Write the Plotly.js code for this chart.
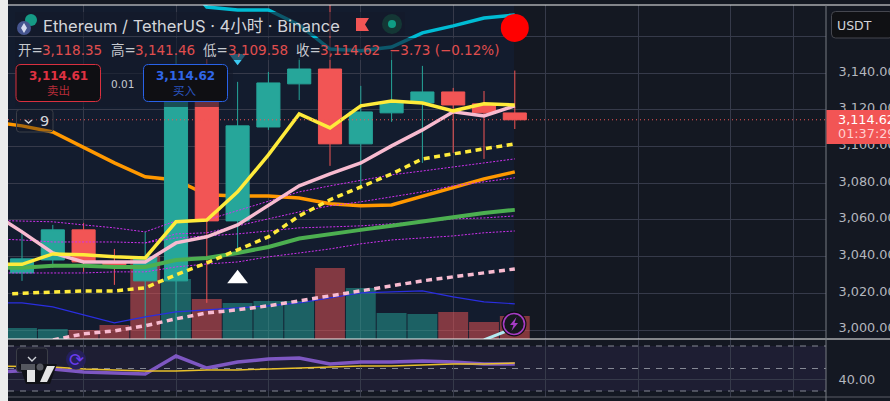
<!DOCTYPE html>
<html><head><meta charset="utf-8">
<script src="https://cdn.plot.ly/plotly-3.0.1.min.js"></script>
<style>html,body{margin:0;padding:0;background:#141822;overflow:hidden}#c{width:890px;height:401px}</style>
</head><body><div id="c"></div>
<script>
// ---------- data ----------
const idx      = [0,1,2,3,4,5,6,7,8,9,10,11,12,13,14,15,16];
const lineIdx  = [-1,0,1,2,3,4,5,6,7,8,9,10,11,12,13,14,15,16];
const open_    = [3031.1,3038.2,3054.6,3036.6,3026.8,3026.8,3125.4,3059.5,3110.7,3134.2,3142.3,3101.5,3118.4,3123.8,3129.8,3123.3,3118.35];
const close_   = [3038.8,3054.6,3037.1,3035.6,3039.9,3125.4,3059.5,3111.3,3134.7,3142.3,3101.5,3118.9,3124.4,3129.8,3122.7,3118.4,3114.62];
const high_    = [3054.6,3057.3,3058.4,3044.2,3053.5,3150,3147.8,3135.3,3140.7,3148.3,3180,3133.1,3151.6,3144,3132,3130.3,3141.46];
const low_     = [3026.8,3033.9,3031.7,3024.6,2990,2990,3014.8,3043.7,3109.1,3125.4,3089.5,3076.4,3113.5,3091.1,3096.6,3093.3,3109.58];
const volume   = [110,100,90,140,830,600,400,360,380,380,710,510,260,250,270,170,230];
const volColor = ['u','u','d','d','d','u','d','u','u','u','d','u','u','u','d','d','d'];
const maYellow = [3036,3035.8,3041.5,3041,3039.9,3039.3,3059,3060,3075.3,3095.5,3117.8,3110.2,3122.2,3124.9,3123.8,3119.5,3123.3,3122.7];
const maPink   = [3064.4,3053.5,3042,3037.1,3037.1,3037.1,3047.5,3050.8,3057.3,3068.2,3078.6,3085.1,3091.1,3100.4,3109.1,3119,3116.7,3122.2];
const maOrange = [3113.5,3111.3,3108,3099.8,3091.1,3083.5,3081.8,3073.7,3073.1,3073.1,3072,3068.8,3067.7,3068.2,3073.1,3078,3082.4,3086.2];
const maGreen  = [3033.9,3033.9,3035,3035,3034.4,3034.4,3038.2,3039.3,3042,3045.3,3049.9,3052.4,3054.6,3056.8,3059,3061.7,3063.8,3065.5];
const dotYellow= [3019.4,3020,3020.8,3021.3,3021.3,3023,3030.1,3036.6,3043.7,3050.8,3062.2,3071,3078,3085.1,3093.3,3096,3098.7,3101.5];
const dotPink  = [2988,2991.3,2994.6,2997.9,2999.5,3002.3,3006.1,3009.3,3011,3013.2,3015.9,3018.6,3021.3,3024,3026.8,3029,3031.1,3033.3];
const blueLine = [3014.8,3014.8,3012.6,3008.3,3003.9,3007.2,3009.9,3011,3012.1,3013.2,3014.8,3017.5,3020.2,3020.8,3021.3,3018.1,3015.3,3014.3];
const band1    = [3059.8,3059.5,3059,3057.3,3055.7,3053.5,3059.5,3060,3065,3069.9,3075.3,3078.6,3081.8,3084.6,3086.7,3089,3091.1,3093.3];
const band2Idx = [4,5,6,7,8,9,10,11,12,13,14,15,16];
const band2    = [3047.5,3052.4,3053,3056.8,3060.6,3064.4,3067.7,3069.9,3072.6,3075.3,3078.6,3080.8,3083];
const band3    = [3049.7,3049.1,3048,3048,3048,3047.5,3050.2,3051.3,3052.4,3054,3055.7,3056.2,3056.8,3057.9,3059,3060.6,3061.1,3062.2];
const band4    = [3031.1,3031.1,3031.1,3031.1,3031.7,3031.7,3034.4,3036,3037.1,3039.9,3042,3044.2,3047,3049.1,3050.2,3051.3,3053,3054];
const cyanIdx  = [5.9,6,7,8,9,10,11,12,13,14,15,16];
const cyanLine = [3178,3176.1,3174.5,3174.5,3166.3,3153.2,3152.2,3154.3,3162,3165.8,3170.1,3171.8];
const paleIdx  = [15,16];
const paleLine = [2994.6,3001.2];
const rsi      = [46.4,47.8,49.6,46.9,46,45.1,61.1,50.4,55.8,58.4,59.3,54,55.8,55.8,56.7,55.8,54,54];
const rsiMa    = [52.2,51.8,51.3,49.6,48.7,47.8,47.8,48.7,48.7,49.6,50.4,51.3,52.2,52.2,53.1,54,54,54.9];
const priceTicks = [3000,3020,3040,3060,3080,3100,3120,3140,3160];
const priceLabels= ['3,000.00','3,020.00','3,040.00','3,060.00','3,080.00','3,100.00','3,120.00','3,140.00',''];
const timeTicks  = [2,5,8,11,14,17,20,23,25.05];
const lastPrice  = 3114.62;

// ---------- helpers ----------
const W=890,H=401;
const px=x=>x/W, py=y=>1-y/H;
const FONT="Inter, 'Noto Sans CJK SC', sans-serif";
const NUM="'DejaVu Sans', 'Noto Sans CJK SC', sans-serif";
const TEAL='#26a69a', RED='#f25555';
const GRID='#363a4a';
const note=(x,y,text,size,color,anchor,weight,family)=>({xref:'paper',yref:'paper',x:px(x),y:py(y),text:text,showarrow:false,
  xanchor:anchor||'left',yanchor:'middle',borderpad:0,font:{family:family||NUM,size:size,color:color,weight:weight||400}});
const rect=(x0,y0,x1,y1,fill,layer)=>({type:'rect',xref:'paper',yref:'paper',x0:px(x0),x1:px(x1),y0:py(y0),y1:py(y1),
  fillcolor:fill,line:{width:0},layer:layer||'above'});
const hline=(x0,x1,y,color,w)=>({type:'line',xref:'paper',yref:'paper',x0:px(x0),x1:px(x1),y0:py(y),y1:py(y),line:{color:color,width:w||1},layer:'above'});
const poly=(pts,fill,close=true,stroke,sw)=>({type:'path',xref:'paper',yref:'paper',layer:'above',
  path:'M'+pts.map(p=>px(p[0])+','+py(p[1])).join('L')+(close?'Z':''),
  fillcolor:close?fill:'rgba(0,0,0,0)',line:{color:stroke||'rgba(0,0,0,0)',width:sw||0}});
const round=(x0,y0,x1,y1,r,fill,stroke)=>({type:'path',xref:'paper',yref:'paper',layer:'above',fillcolor:fill,line:{color:stroke,width:1},
  path:`M${px(x0+r)},${py(y0)}L${px(x1-r)},${py(y0)}Q${px(x1)},${py(y0)} ${px(x1)},${py(y0+r)}L${px(x1)},${py(y1-r)}Q${px(x1)},${py(y1)} ${px(x1-r)},${py(y1)}L${px(x0+r)},${py(y1)}Q${px(x0)},${py(y1)} ${px(x0)},${py(y1-r)}L${px(x0)},${py(y0+r)}Q${px(x0)},${py(y0)} ${px(x0+r)},${py(y0)}Z`});
const circ=(cx,cy,r,fill,stroke,sw)=>({type:'circle',xref:'paper',yref:'paper',layer:'above',x0:px(cx-r),x1:px(cx+r),y0:py(cy+r),y1:py(cy-r),
  fillcolor:fill,line:{color:stroke||'rgba(0,0,0,0)',width:sw||0}});

// ---------- traces ----------
const line=(x,y,color,width,dash,axis)=>({type:'scatter',mode:'lines',x:x,y:y,yaxis:axis||'y3',hoverinfo:'skip',
  line:{color:color,width:width,dash:dash||'solid'},cliponaxis:true});
const BAND='#d030f0', BANDDASH='2px,1.5px';
const traces=[
  {type:'bar',x:idx,y:volume,yaxis:'y',width:0.97,hoverinfo:'skip',
   marker:{color:volColor.map(c=>c==='u'?'rgba(38,166,154,0.5)':'rgba(242,85,85,0.5)'),line:{width:0}}},
  line(lineIdx,maOrange,'#ff9800',3.5,'solid','y2'),
  {type:'candlestick',x:idx,open:open_,high:high_,low:low_,close:close_,yaxis:'y3',whiskerwidth:0,hoverinfo:'skip',
   increasing:{line:{color:TEAL,width:1},fillcolor:TEAL},decreasing:{line:{color:RED,width:1},fillcolor:RED}},
  line(lineIdx,band1,BAND,1,BANDDASH),
  line(band2Idx,band2,BAND,1,BANDDASH),
  line(lineIdx,band3,BAND,1,BANDDASH),
  line(lineIdx,band4,BAND,1,BANDDASH),
  line(lineIdx,blueLine,'#2a2ee0',1.2),
  line(lineIdx,maGreen,'#4caf50',4),
  line(lineIdx,dotPink,'#f8bbd0',3.5,'6px,4.5px'),
  line(lineIdx,dotYellow,'#ffeb3b',3.5,'6px,4.5px'),
  line(lineIdx,maPink,'#f8bbd0',3.5),
  line(lineIdx,maYellow,'#ffeb3b',3.5),
  line(cyanIdx,cyanLine,'#00bcd4',3.5),
  line(paleIdx,paleLine,'#b2ebf2',3),
  {type:'scatter',mode:'markers',x:[7],y:[3027.9],yaxis:'y3',hoverinfo:'skip',marker:{symbol:'triangle-up',size:18,color:'#ffffff',line:{width:0}}},
  {type:'scatter',mode:'markers',x:[7],y:[3148.4],yaxis:'y3',hoverinfo:'skip',marker:{symbol:'triangle-down',size:15,color:'#3cc8f0',line:{width:0}}},
  {type:'scatter',mode:'markers',x:[16],y:[3164.7],yaxis:'y3',hoverinfo:'skip',marker:{symbol:'circle',size:28,color:'#ff0000',line:{width:0}}},
  Object.assign(line(lineIdx,rsi,'#7e57c2',3.5,'solid','y4'),{xaxis:'x2'}),
  Object.assign(line(lineIdx,rsiMa,'#e8c02a',1.5,'solid','y4'),{xaxis:'x2'})
];

// ---------- shapes ----------
const shapes=[
  rect(8,5,514,339,'#131c2e','below'),
  {type:'rect',xref:'paper',yref:'y4',x0:px(8),x1:px(826),y0:30,y1:70,fillcolor:'#1e1e33',line:{width:0},layer:'below'},
  ...[70,50,30].map(v=>({type:'line',xref:'paper',yref:'y4',x0:px(8),x1:px(826),y0:v,y1:v,line:{color:'#858894',width:1,dash:'6px,6px'},layer:'between'})),
  {type:'line',xref:'paper',yref:'y3',x0:px(8),x1:px(826),y0:lastPrice,y1:lastPrice,line:{color:RED,width:1,dash:'1px,3px'},layer:'above'},
  // overlays behind the legend
  rect(15,12,405,36,'rgba(19,26,42,0.62)'),
  rect(15,38,500,60,'rgba(19,26,42,0.62)'),
  rect(15,60,233,107,'rgba(19,26,42,0.62)'),
  // frame
  hline(8,890,5,'#f2f2f2',1.2),
  hline(8,890,339,'#f2f2f2',1.2),
  hline(8,890,397,'#5a5d66',1),
  {type:'line',xref:'paper',yref:'paper',x0:px(826),x1:px(826),y0:py(5),y1:0,line:{color:'#777a82',width:1},layer:'above'},
  rect(0,0,8,401,'#ececec'),
  // price tag
  rect(826.5,110,890,144,RED),
  // USDT box
  round(831.5,11.5,893,38,4,'#101114','#45474f'),
  // ETH logo
  circ(31,20,6,'#159a85'),
  circ(24,28,7,'#46558f'),
  poly([[24,23],[27,28],[24,33],[21,28]],'#d7dcf0'),
  // flag + status
  poly([[356,18],[369,18],[365,24.5],[369,31],[356,31]],'#f25555'),
  circ(392,24,10,'#143735'),
  circ(392,24,4,'#0f9d85'),
  // buy/sell buttons
  round(16,64.5,100.5,101.5,5,'#0f0f13','#d9303f'),
  round(143.5,64.5,227.5,101.5,5,'#0f0f13','#2962e8'),
  // collapse "9"
  round(16.5,109.5,53,132,3,'rgba(20,24,34,0.35)','#3b3e47'),
  poly([[25,120],[28.5,123],[32,120]],'',false,'#d0d3d8',1.5),
  // lightning circle
  circ(514,324,12.5,'#0c0d12'),
  circ(514,324,10.5,'#16181f','#a63cc4',1.6),
  poly([[516.5,317],[510,325],[513.5,325],[511.5,331],[518,323],[514.5,323]],'#a63cc4'),
  // refresh icon
  circ(76,359.5,10,'#25205a'),
  // trading view watermark
  round(16.5,348,47.5,372,3,'#1a1b2a','#3b3e47'),
  poly([[28,357],[32,361],[36,357]],'',false,'#cfd2d8',1.4),
  poly([[19,364],[57,364],[50,384],[26,384]],'#101116'),
  poly([[21,364],[35,364],[35,370],[21,370]],'#55575f'),
  circ(40,367,3.5,'#55575f'),
  poly([[27,370],[35,370],[35,382],[27,382]],'#e4e4e4'),
  poly([[47,366],[55,366],[47,382],[40,382]],'#e4e4e4')
];

// ---------- text ----------
const LBL='#c6c9cf', VAL='#e04e4e';
const annotations=[
  note(42,26,'Ethereum / TetherUS · 4小时 · Binance',16.5,'#d3d5da','left',400,FONT),
  note(17,50,'开=',13.5,LBL), note(41,50,'3,118.35',13.5,VAL),
  note(110,50,'高=',13.5,LBL), note(134,50,'3,141.46',13.5,VAL),
  note(202,50,'低=',13.5,LBL), note(227,50,'3,109.58',13.5,VAL),
  note(295,50,'收=',13.5,LBL), note(319,50,'3,114.62',13.5,VAL),
  note(388,50,'−3.73 (−0.12%)',13.5,VAL),
  note(58,75.5,'3,114.61',12,'#e03242','center',700),
  note(58,91,'卖出',11.5,'#b52c38','center'),
  note(122,84,'0.01',10.5,'#c6c9cf','center'),
  note(185,75.5,'3,114.62',12,'#2f66e8','center',700),
  note(185,91,'买入',11.5,'#2a55c0','center'),
  note(38.5,120.5,'9',14.5,'#d3d5da'),
  note(836,25,'USDT',12.5,'#d3d5da'),
  note(837,119,'3,114.62',12.8,'#ffffff'),
  note(837,133,'01:37:29',12.8,'#ffd0d0'),
  note(76,359.5,'⟳',18,'#6a3cf0','center')
];

const priceRange=[2995.1,3177.2];
const layout={
  width:W,height:H,margin:{l:0,r:0,t:0,b:0,pad:0},
  paper_bgcolor:'#141822',plot_bgcolor:'rgba(0,0,0,0)',showlegend:false,hovermode:false,
  font:{family:FONT,color:'#c6c9cf'},bargap:0.03,boxgap:0.25,boxgroupgap:0,
  xaxis:{domain:[px(8),px(826)],range:[-0.4545,26.104],anchor:'y',tickmode:'array',tickvals:timeTicks,showticklabels:false,ticks:'',
    showgrid:true,gridcolor:GRID,gridwidth:1,zeroline:false,showline:false,rangeslider:{visible:false}},
  xaxis2:{domain:[px(8),px(826)],range:[-0.4545,26.104],anchor:'y4',tickmode:'array',tickvals:timeTicks,showticklabels:false,ticks:'',
    showgrid:true,gridcolor:GRID,gridwidth:1,zeroline:false,showline:false},
  yaxis:{domain:[py(339),py(5)],range:[0,3340],visible:false,showgrid:false,zeroline:false},
  yaxis2:{domain:[py(339),py(5)],range:priceRange,overlaying:'y',visible:false,showgrid:false,zeroline:false},
  yaxis3:{domain:[py(339),py(5)],range:priceRange,overlaying:'y',side:'right',anchor:'x',tickmode:'array',tickvals:priceTicks,ticktext:priceLabels,
    ticks:'outside',ticklen:9,tickcolor:'rgba(0,0,0,0)',tickfont:{family:NUM,size:12.8,color:'#b4b7bf'},ticklabelshift:-2,
    showgrid:true,gridcolor:GRID,gridwidth:1,zeroline:false,showline:false},
  yaxis4:{domain:[py(397),py(340)],range:[24.67,75.33],side:'right',anchor:'x2',tickmode:'array',tickvals:[40],ticktext:['40.00'],
    ticks:'outside',ticklen:9,tickcolor:'rgba(0,0,0,0)',tickfont:{family:NUM,size:12.8,color:'#b4b7bf'},
    showgrid:true,gridcolor:GRID,gridwidth:1,zeroline:false,showline:false},
  shapes:shapes,annotations:annotations
};
Plotly.newPlot('c',traces,layout,{staticPlot:true,displayModeBar:false});
</script></body></html>
